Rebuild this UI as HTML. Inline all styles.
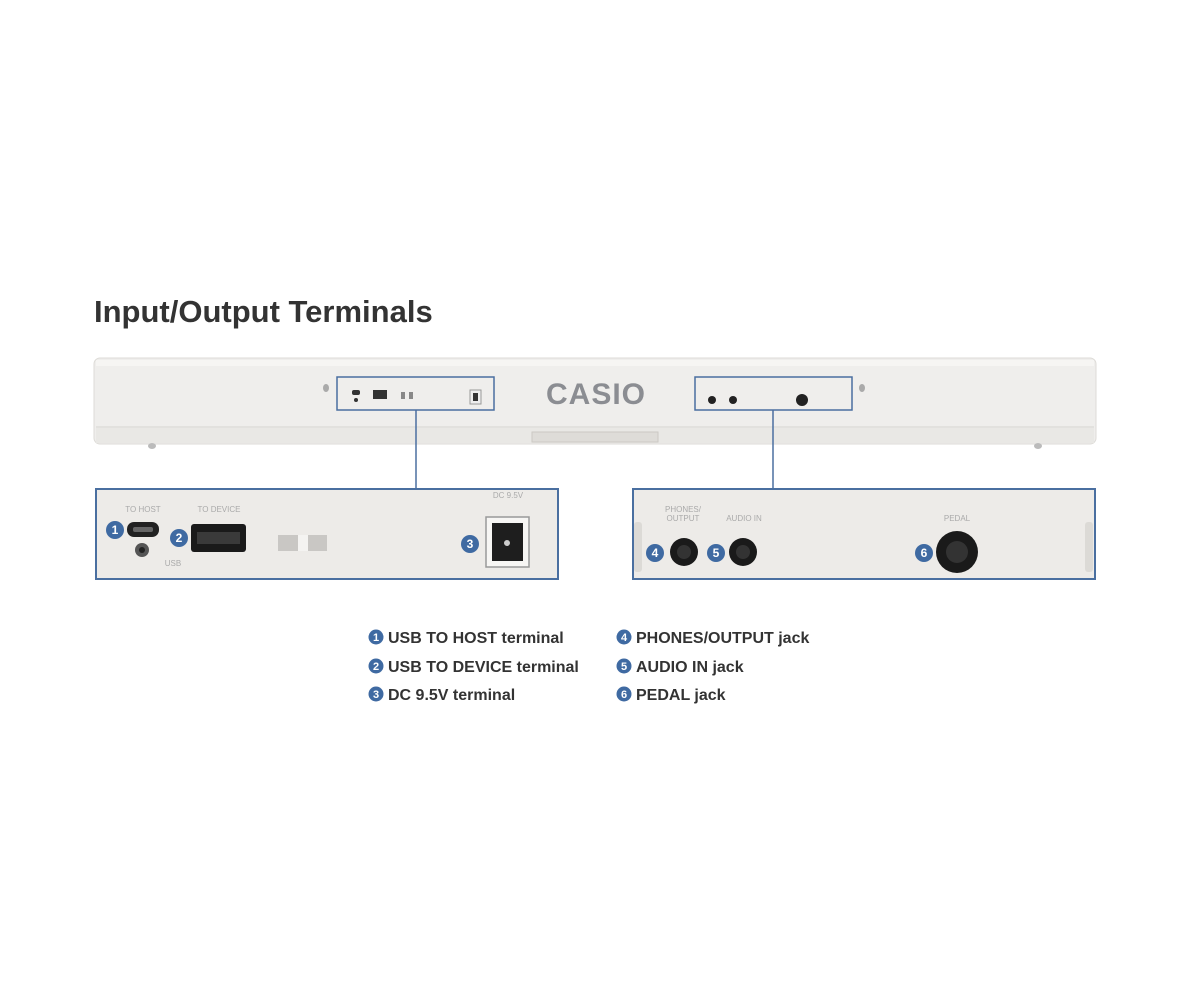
<!DOCTYPE html>
<html><head><meta charset="utf-8"><style>
html,body{margin:0;padding:0;background:#fff;}
svg{display:block;}
</style></head><body>
<svg width="1200" height="1000" viewBox="0 0 1200 1000" xmlns="http://www.w3.org/2000/svg" font-family="Liberation Sans, sans-serif">
<rect width="1200" height="1000" fill="#fff"/>
<text x="94" y="322" font-size="31" font-weight="bold" fill="#333">Input/Output Terminals</text>

<!-- keyboard -->
<rect x="94" y="358" width="1002" height="86" rx="6" fill="#efeeec" stroke="#dddbd7"/>
<rect x="96" y="360" width="998" height="6" fill="#f6f5f3"/>
<line x1="96" y1="427" x2="1094" y2="427" stroke="#d6d4d0"/>
<rect x="96" y="428" width="998" height="15" fill="#e9e8e5"/>
<rect x="532" y="432" width="126" height="10" fill="#dedcd8" stroke="#ccc9c4"/>
<ellipse cx="152" cy="446" rx="4" ry="3" fill="#bbb"/>
<ellipse cx="1038" cy="446" rx="4" ry="3" fill="#bbb"/>
<ellipse cx="326" cy="388" rx="3" ry="4" fill="#aaa"/>
<ellipse cx="862" cy="388" rx="3" ry="4" fill="#aaa"/>
<rect x="337" y="377" width="157" height="33" fill="none" stroke="#4a6fa0" stroke-width="1.5"/>
<rect x="695" y="377" width="157" height="33" fill="none" stroke="#4a6fa0" stroke-width="1.5"/>
<rect x="352" y="390" width="8" height="5" rx="2" fill="#333"/>
<circle cx="356" cy="400" r="2" fill="#333"/>
<rect x="373" y="390" width="14" height="9" fill="#333"/>
<rect x="401" y="392" width="4" height="7" fill="#888"/><rect x="409" y="392" width="4" height="7" fill="#888"/>
<rect x="470" y="390" width="11" height="14" fill="#eee" stroke="#999"/><rect x="473" y="393" width="5" height="8" fill="#333"/>
<text x="596" y="404" font-size="30" font-weight="bold" fill="#8b8d92" text-anchor="middle" letter-spacing="1">CASIO</text>
<circle cx="712" cy="400" r="4" fill="#222"/><circle cx="733" cy="400" r="4" fill="#222"/>
<circle cx="802" cy="400" r="6" fill="#222"/>
<line x1="416" y1="410" x2="416" y2="488" stroke="#4a6fa0" stroke-width="1.5"/>
<line x1="773" y1="410" x2="773" y2="488" stroke="#4a6fa0" stroke-width="1.5"/>

<!-- left panel -->
<rect x="96" y="489" width="462" height="90" fill="#edebe8" stroke="#4a6fa0" stroke-width="2"/>
<g font-size="8" fill="#aaa" text-anchor="middle">
<text x="143" y="512">TO HOST</text><text x="219" y="512">TO DEVICE</text>
<text x="508" y="498">DC 9.5V</text><text x="173" y="566">USB</text></g>
<rect x="127" y="522" width="32" height="15" rx="7" fill="#222"/><rect x="133" y="527" width="20" height="5" rx="2" fill="#666"/>
<circle cx="142" cy="550" r="7" fill="#555"/><circle cx="142" cy="550" r="3" fill="#222"/>
<rect x="191" y="524" width="55" height="28" rx="3" fill="#1a1a1a"/><rect x="197" y="532" width="43" height="12" fill="#3a3a3a"/>
<rect x="278" y="535" width="49" height="16" fill="#c9c7c4"/><rect x="298" y="535" width="10" height="16" fill="#f4f3f1"/>
<rect x="486" y="517" width="43" height="50" fill="#f7f6f4" stroke="#999" stroke-width="1.5"/>
<rect x="492" y="523" width="31" height="38" fill="#1e1e1e"/><circle cx="507" cy="543" r="3" fill="#ccc"/>
<!-- right panel -->
<rect x="633" y="489" width="462" height="90" fill="#edebe8" stroke="#4a6fa0" stroke-width="2"/>
<g font-size="8" fill="#aaa" text-anchor="middle">
<text x="683" y="512">PHONES/</text><text x="683" y="521">OUTPUT</text>
<text x="744" y="521">AUDIO IN</text><text x="957" y="521">PEDAL</text></g>
<rect x="634" y="522" width="8" height="50" rx="3" fill="#dcdad6"/>
<rect x="1085" y="522" width="8" height="50" rx="3" fill="#dcdad6"/>
<circle cx="684" cy="552" r="14" fill="#1a1a1a"/><circle cx="684" cy="552" r="7" fill="#333"/>
<circle cx="743" cy="552" r="14" fill="#1a1a1a"/><circle cx="743" cy="552" r="7" fill="#333"/>
<circle cx="957" cy="552" r="21" fill="#1a1a1a"/><circle cx="957" cy="552" r="11" fill="#333"/>
<!-- number badges -->
<g font-size="12" font-weight="bold" fill="#fff" text-anchor="middle">
<circle cx="115" cy="530" r="9" fill="#3f6aa2"/><text x="115" y="534">1</text>
<circle cx="179" cy="538" r="9" fill="#3f6aa2"/><text x="179" y="542">2</text>
<circle cx="470" cy="544" r="9" fill="#3f6aa2"/><text x="470" y="548">3</text>
<circle cx="655" cy="553" r="9" fill="#3f6aa2"/><text x="655" y="557">4</text>
<circle cx="716" cy="553" r="9" fill="#3f6aa2"/><text x="716" y="557">5</text>
<circle cx="924" cy="553" r="9" fill="#3f6aa2"/><text x="924" y="557">6</text>
</g>
<!-- legend -->
<g font-size="11" font-weight="bold" fill="#fff" text-anchor="middle">
<circle cx="376" cy="637" r="7.5" fill="#3f6aa2"/><text x="376" y="641">1</text>
<circle cx="376" cy="666" r="7.5" fill="#3f6aa2"/><text x="376" y="670">2</text>
<circle cx="376" cy="694" r="7.5" fill="#3f6aa2"/><text x="376" y="698">3</text>
<circle cx="624" cy="637" r="7.5" fill="#3f6aa2"/><text x="624" y="641">4</text>
<circle cx="624" cy="666" r="7.5" fill="#3f6aa2"/><text x="624" y="670">5</text>
<circle cx="624" cy="694" r="7.5" fill="#3f6aa2"/><text x="624" y="698">6</text>
</g>
<g font-size="16" font-weight="bold" fill="#333">
<text x="388" y="643">USB TO HOST terminal</text>
<text x="388" y="672">USB TO DEVICE terminal</text>
<text x="388" y="700">DC 9.5V terminal</text>
<text x="636" y="643">PHONES/OUTPUT jack</text>
<text x="636" y="672">AUDIO IN jack</text>
<text x="636" y="700">PEDAL jack</text>
</g>
</svg>
</body></html>
